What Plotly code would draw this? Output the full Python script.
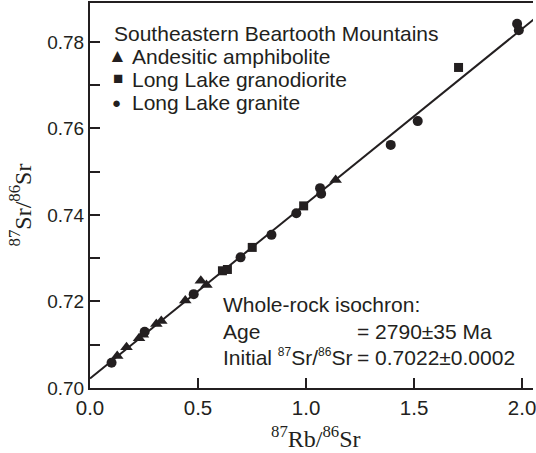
import math
import plotly.graph_objects as go

# Whole-rock Rb-Sr data, Southeastern Beartooth Mountains
amph_rb = [0.126, 0.169, 0.227, 0.245, 0.307, 0.330, 0.441, 0.513, 0.539, 1.137]
amph_sr = [0.7074, 0.7094, 0.7115, 0.7123, 0.7148, 0.7155, 0.7202, 0.7248, 0.7238, 0.7481]

grd_rb = [0.613, 0.636, 0.751, 0.989, 1.706]
grd_sr = [0.7271, 0.7274, 0.7325, 0.7421, 0.7741]

gra_rb = [0.0998, 0.253, 0.480, 0.697, 0.840, 0.955, 1.065, 1.070, 1.392, 1.517, 1.977, 1.985]
gra_sr = [0.70585, 0.7130, 0.7217, 0.7302, 0.7354, 0.7404, 0.7462, 0.7449, 0.7562, 0.7617, 0.7842, 0.7827]

# Isochron parameters
AGE_MA = 2790
INITIAL_RATIO = 0.7022
DECAY_CONST = 1.42e-11  # 87Rb, per year

x_ticks = [0.0, 0.5, 1.0, 1.5, 2.0]
x_tick_text = ["0.0", "0.5", "1.0", "1.5", "2.0"]
y_ticks = [0.70, 0.71, 0.72, 0.73, 0.74, 0.75, 0.76, 0.77, 0.78]
y_tick_text = ["0.70", "", "0.72", "", "0.74", "", "0.76", "", "0.78"]

X_RANGE = [0.0, 2.0506]
Y_RANGE = [0.70, 0.789]

INK = "#231f20"
SANS = "Arial, 'Liberation Sans', sans-serif"
SERIF = "'Times New Roman', 'Liberation Serif', serif"

slope = math.exp(DECAY_CONST * AGE_MA * 1e6) - 1
iso_x = [0.0, 2.2]
iso_y = [INITIAL_RATIO + slope * v for v in iso_x]

fig = go.Figure()
fig.add_trace(go.Scatter(x=iso_x, y=iso_y, mode="lines",
                         line=dict(color=INK, width=2), showlegend=False, hoverinfo="skip"))
fig.add_trace(go.Scatter(x=amph_rb, y=amph_sr, mode="markers", name="Andesitic amphibolite",
                         marker=dict(symbol="triangle-up", size=11, color=INK), showlegend=False))
fig.add_trace(go.Scatter(x=grd_rb, y=grd_sr, mode="markers", name="Long Lake granodiorite",
                         marker=dict(symbol="square", size=9, color=INK), showlegend=False))
fig.add_trace(go.Scatter(x=gra_rb, y=gra_sr, mode="markers", name="Long Lake granite",
                         marker=dict(symbol="circle", size=10, color=INK), showlegend=False))

W, H = 536, 453
ML, MR, MT, MB = 90, 0, 3, 65
PW, PH = W - ML - MR, H - MT - MB


def px(xp):
    return (xp - ML) / PW


def py(yp):
    return (H - MB - yp) / PH


annos = []


def text(x, y, s, size=21, anchor="left", family=SANS, angle=0):
    annos.append(dict(x=px(x), y=py(y), xref="paper", yref="paper", text=s,
                      showarrow=False, xanchor=anchor, yanchor="middle",
                      textangle=angle, font=dict(family=family, size=size, color=INK)))


def small_sup(s, size):
    return f"<sup><span style='font-size:{size}px'>{s}</span></sup>"


# Key
text(112, 33, "Southeastern Beartooth Mountains")
text(118, 55, "▲", size=19, anchor="center")
text(130, 56, "Andesitic amphibolite")
text(118, 79, "■", size=17, anchor="center")
text(130, 80, "Long Lake granodiorite")
text(117, 103, "●", size=15, anchor="center")
text(130, 103, "Long Lake granite")

# Isochron summary
text(222, 304, "Whole-rock isochron:")
text(222, 331, "Age")
text(357, 331, "= 2790±35 Ma")
text(222, 357, "Initial " + small_sup("87", 12) + "Sr/" + small_sup("86", 12) + "Sr")
text(357, 357, "= 0.7022±0.0002")

# Axis titles
text(318, 437, "<sup>87</sup>Rb/<sup>86</sup>Sr", size=24, anchor="center", family=SERIF)
text(20, 205, "<sup>87</sup>Sr/<sup>86</sup>Sr", size=24, anchor="center", family=SERIF, angle=-90)

fig.update_layout(
    width=W, height=H,
    margin=dict(l=ML, r=MR, t=MT, b=MB, pad=0),
    paper_bgcolor="white", plot_bgcolor="white",
    annotations=annos,
    xaxis=dict(range=X_RANGE, tickvals=x_ticks, ticktext=x_tick_text,
               ticks="inside", ticklen=10, tickwidth=2, tickcolor=INK,
               showline=True, linewidth=2, linecolor=INK, mirror=True,
               showgrid=False, zeroline=False, ticklabeloverflow="allow",
               tickfont=dict(family=SANS, size=20.5, color=INK)),
    yaxis=dict(range=Y_RANGE, tickvals=y_ticks, ticktext=y_tick_text,
               ticks="inside", ticklen=10, tickwidth=2, tickcolor=INK,
               showline=True, linewidth=2, linecolor=INK, mirror=False,
               showgrid=False, zeroline=False,
               tickfont=dict(family=SANS, size=19, color=INK)),
)

fig.write_html("out.html")
